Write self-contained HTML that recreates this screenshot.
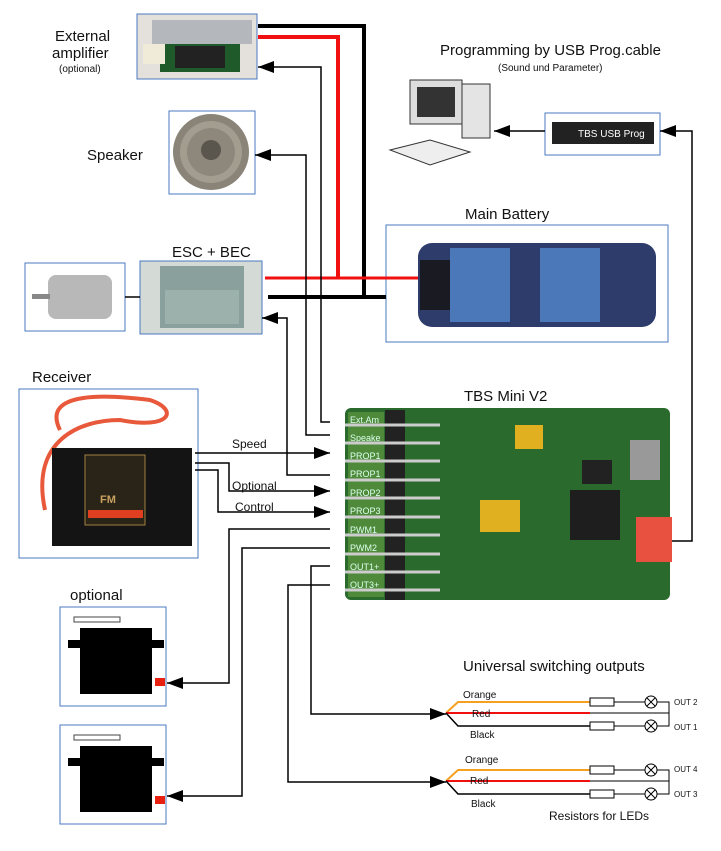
<!DOCTYPE html>
<html><head><meta charset="utf-8"><style>
body{margin:0;background:#fff}
svg{display:block}
text{font-family:"Liberation Sans",sans-serif;fill:#111}
</style></head><body>
<svg width="721" height="851" viewBox="0 0 721 851" xmlns="http://www.w3.org/2000/svg">
<defs>
<marker id="b" markerWidth="16" markerHeight="12" refX="16" refY="6" orient="auto" markerUnits="userSpaceOnUse" viewBox="0 0 16 12"><path d="M0,0L16,6L0,12z" fill="#000"/></marker>
</defs>
<text x="55" y="41" font-size="15">External</text>
<text x="52" y="58" font-size="15">amplifier</text>
<text x="59" y="72" font-size="10">(optional)</text>
<text x="87" y="160" font-size="15">Speaker</text>
<text x="172" y="257" font-size="15">ESC + BEC</text>
<text x="32" y="382" font-size="15">Receiver</text>
<text x="70" y="600" font-size="15">optional</text>
<text x="440" y="55" font-size="15">Programming by USB Prog.cable</text>
<text x="498" y="71" font-size="10">(Sound und Parameter)</text>
<text x="465" y="219" font-size="15">Main Battery</text>
<text x="464" y="401" font-size="15">TBS Mini V2</text>
<text x="463" y="671" font-size="15">Universal switching outputs</text>
<text x="549" y="820" font-size="12">Resistors for LEDs</text>
<text x="232" y="448" font-size="12">Speed</text>
<text x="232" y="490" font-size="12">Optional</text>
<text x="235" y="511" font-size="12">Control</text>

<!-- amp -->
<rect x="137" y="14" width="120" height="65" fill="#e4e0dc" stroke="#4a78c0"/>
<rect x="152" y="20" width="100" height="24" fill="#b4b8bc"/>
<rect x="160" y="44" width="80" height="28" fill="#1e5a2a"/>
<rect x="175" y="46" width="50" height="22" fill="#222"/>
<rect x="143" y="44" width="22" height="20" fill="#f0ead8"/>
<!-- speaker -->
<rect x="169" y="111" width="86" height="83" fill="#fff" stroke="#4a78c0"/>
<circle cx="211" cy="152" r="38" fill="#8a8478"/><circle cx="211" cy="152" r="31" fill="#a39d90"/><circle cx="211" cy="152" r="24" fill="#8e887c"/><circle cx="211" cy="150" r="10" fill="#5a564e"/>
<!-- esc -->
<rect x="140" y="261" width="122" height="73" fill="#d4dad6" stroke="#4a78c0"/>
<rect x="160" y="266" width="84" height="62" fill="#8aa09c"/>
<rect x="165" y="290" width="74" height="34" fill="#9cb0ac"/>
<!-- motor -->
<rect x="25" y="263" width="100" height="68" fill="#fff" stroke="#4a78c0"/>
<rect x="48" y="275" width="64" height="44" rx="8" fill="#b8b8b8"/>
<rect x="32" y="294" width="18" height="5" fill="#888"/>
<!-- battery -->
<rect x="386" y="225" width="282" height="117" fill="#fff" stroke="#4a78c0"/>
<rect x="418" y="243" width="238" height="84" rx="14" fill="#2e3c6c"/>
<rect x="450" y="248" width="60" height="74" fill="#4a78b8"/><rect x="540" y="248" width="60" height="74" fill="#4a78b8"/>
<rect x="420" y="260" width="30" height="50" fill="#1a1a22"/>
<!-- computer -->
<rect x="410" y="80" width="52" height="44" fill="#ddd" stroke="#333"/><rect x="417" y="87" width="38" height="30" fill="#333"/>
<rect x="462" y="84" width="28" height="54" fill="#e4e4e4" stroke="#333"/>
<path d="M390,150L430,140L470,152L430,165z" fill="#eee" stroke="#333"/>
<!-- usb -->
<rect x="545" y="113" width="115" height="42" fill="#fff" stroke="#4a78c0"/>
<rect x="552" y="122" width="102" height="22" fill="#222"/><text x="578" y="137" font-size="10" style="fill:#fff">TBS USB Prog</text>
<!-- receiver -->
<rect x="19" y="389" width="179" height="169" fill="#fff" stroke="#4a78c0"/>
<path d="M60,430C40,390 110,395 150,400 180,410 170,430 120,420 80,420 30,440 45,510" fill="none" stroke="#e8583a" stroke-width="4"/>
<rect x="52" y="448" width="140" height="98" fill="#141414"/>
<rect x="85" y="455" width="60" height="70" fill="#2a2418" stroke="#a08040"/><rect x="88" y="510" width="55" height="8" fill="#e04020"/>
<text x="100" y="503" font-size="11" font-weight="bold" style="fill:#c8a060">FM</text>
<!-- servos -->
<g id="s"><rect x="60" y="607" width="106" height="99" fill="#fff" stroke="#4a78c0"/>
<rect x="74" y="617" width="46" height="5" fill="#fff" stroke="#444"/><rect x="80" y="628" width="72" height="66" fill="#000"/><rect x="68" y="640" width="96" height="8" fill="#000"/><rect x="155" y="678" width="10" height="8" fill="#e82010"/></g>
<use href="#s" y="118"/>
<!-- board -->
<rect x="345" y="408" width="325" height="192" rx="6" fill="#2a6a2c"/>
<rect x="348" y="412" width="36" height="185" fill="#4e8a3a"/>
<rect x="385" y="410" width="20" height="190" fill="#222"/>
<rect x="515" y="425" width="28" height="24" fill="#e0b020"/>
<rect x="480" y="500" width="40" height="32" fill="#e0b020"/>
<rect x="570" y="490" width="50" height="50" fill="#1e1e1e"/>
<rect x="582" y="460" width="30" height="24" fill="#222"/>
<rect x="630" y="440" width="30" height="40" fill="#999"/>
<rect x="636" y="517" width="36" height="45" fill="#e85040"/>
<g font-size="9">
<text x="350" y="423" style="fill:#dfe">Ext.Am</text><text x="350" y="441" style="fill:#dfe">Speake</text><text x="350" y="459" style="fill:#dfe">PROP1</text><text x="350" y="477" style="fill:#dfe">PROP1</text><text x="350" y="496" style="fill:#dfe">PROP2</text><text x="350" y="514" style="fill:#dfe">PROP3</text><text x="350" y="533" style="fill:#dfe">PWM1</text><text x="350" y="551" style="fill:#dfe">PWM2</text><text x="350" y="570" style="fill:#dfe">OUT1+</text><text x="350" y="588" style="fill:#dfe">OUT3+</text></g>
<g stroke="#ccc" stroke-width="3"><line x1="345" y1="425" x2="440" y2="425"/><line x1="345" y1="443" x2="440" y2="443"/><line x1="345" y1="461" x2="440" y2="461"/><line x1="345" y1="480" x2="440" y2="480"/><line x1="345" y1="498" x2="440" y2="498"/><line x1="345" y1="517" x2="440" y2="517"/><line x1="345" y1="535" x2="440" y2="535"/><line x1="345" y1="554" x2="440" y2="554"/><line x1="345" y1="572" x2="440" y2="572"/><line x1="345" y1="590" x2="440" y2="590"/></g>

<path d="M258,26H364V297H386" fill="none" stroke="#000" stroke-width="4"/>
<path d="M258,37H338V278" fill="none" stroke="#f01010" stroke-width="4"/>
<line x1="265" y1="278" x2="418" y2="278" stroke="#f01010" stroke-width="3"/>
<line x1="268" y1="297" x2="386" y2="297" stroke="#000" stroke-width="4"/>
<line x1="125" y1="297" x2="140" y2="297" stroke="#000" stroke-width="1.5"/>
<g fill="none" stroke="#000" stroke-width="1.5">
<path d="M330,422H321V67H258" marker-end="url(#b)"/>
<path d="M330,435H306V155H255" marker-end="url(#b)"/>
<path d="M330,475H287V318H262" marker-end="url(#b)"/>
<path d="M195,453H330" marker-end="url(#b)"/>
<path d="M195,463H229V491H330" marker-end="url(#b)"/>
<path d="M195,470H218V512H330" marker-end="url(#b)"/>
<path d="M330,529H229V683H167" marker-end="url(#b)"/>
<path d="M330,548H242V796H167" marker-end="url(#b)"/>
<path d="M330,566H311V714H446" marker-end="url(#b)"/>
<path d="M330,585H288V782H446" marker-end="url(#b)"/>
<path d="M672,541H692V131H660" marker-end="url(#b)"/>
<path d="M545,131H494" marker-end="url(#b)"/>
</g>
<g id="o" fill="none">
<path d="M446,713L458,702H590" stroke="#f5a020" stroke-width="2"/>
<path d="M446,713H590" stroke="#f01010" stroke-width="2"/>
<path d="M446,713L458,726H590" stroke="#000" stroke-width="1.5"/>
<rect x="590" y="698" width="24" height="8" stroke="#000" fill="#fff"/><rect x="590" y="722" width="24" height="8" stroke="#000" fill="#fff"/>
<path d="M614,702H645M657,702H669V726H657M645,726H614M590,713H669" stroke="#000"/>
<circle cx="651" cy="702" r="6" stroke="#000" fill="#fff"/><circle cx="651" cy="726" r="6" stroke="#000" fill="#fff"/>
<path d="M647,698l8,8M655,698l-8,8M647,722l8,8M655,722l-8,8" stroke="#000"/>
</g>
<use href="#o" y="68"/>
<g font-size="10">
<text x="463" y="698">Orange</text><text x="472" y="717">Red</text><text x="470" y="738">Black</text>
<text x="465" y="763">Orange</text><text x="470" y="784">Red</text><text x="471" y="807">Black</text>
<text x="674" y="705" font-size="8">OUT 2</text><text x="674" y="730" font-size="8">OUT 1</text>
<text x="674" y="772" font-size="8">OUT 4</text><text x="674" y="797" font-size="8">OUT 3</text></g>
</svg>
</body></html>
